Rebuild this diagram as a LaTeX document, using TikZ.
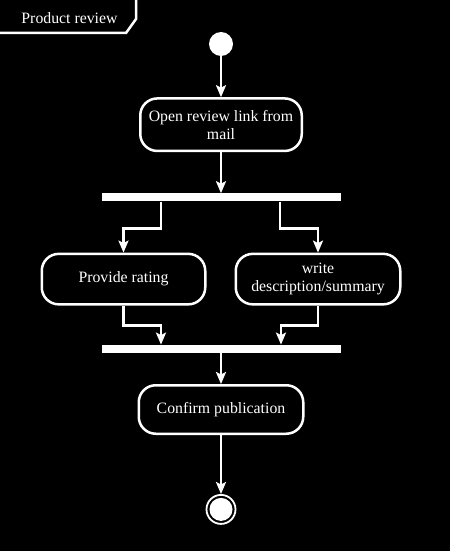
\documentclass[tikz,border=0pt]{standalone}
\usepackage{fontspec}
\setmainfont{Liberation Serif}
\usepackage{tikz}
\usetikzlibrary{shapes,positioning,arrows.meta}
\tikzset{
	txt/.style = {
		font=\fontsize{15.8}{18.3}\selectfont, text=white
	}
}

\begin{document}
\begin{tikzpicture}[
		x=1pt, y=-1pt,
        action/.style = {rectangle, rounded corners=17pt, draw=white, line width=2.5pt,
                         fill=black, txt, align=center, inner sep=2pt},
        bar/.style = {rectangle, fill=white, minimum width=239pt, minimum height=8pt, inner sep=0pt},
        flow/.style = {white, line width=2.5pt, -{Stealth[length=12pt,width=10pt,inset=2.5pt]}}
    ]
    \useasboundingbox (0,0) rectangle (453,556);
    \fill[black] (0,0) rectangle (449.5,551);

    % frame tab
    \draw[white, line width=2.5pt] (0,33) -- (126,33) -- (136,19) -- (136,0);
    \node[txt] (title) at (69.5,18) {Product review};

    \node[circle, fill=white, minimum size=24pt, inner sep=0pt] (start) at (221,44) {};
    \node[action, below = 41pt of start, minimum width=161.5pt, minimum height=52.5pt] (open) {Open review link from\\mail};
    \node[bar, below = 41pt of open] (fork1) {};
    \node[action, below = 51pt of fork1, xshift=-97.5pt, minimum width=163.5pt, minimum height=50.5pt] (rating) {Provide rating};
    \node[action, below = 51pt of fork1, xshift=97pt, minimum width=164.5pt, minimum height=50.5pt] (write) {write\\description/summary};
    \node[bar, below = 143pt of fork1] (fork2) {};
    \node[action, below = 31pt of fork2, minimum width=164.5pt, minimum height=48.5pt] (confirm) {Confirm publication};
    \node[circle, draw=white, line width=1.8pt, minimum size=29pt, inner sep=0pt, below = 59pt of confirm,
          path picture={\fill[white] (path picture bounding box.center) circle (11.5pt);}] (end) {};

    \draw[flow] (start) -- (open);
    \draw[flow] (open.south) -- (open.south |- fork1.north);
    \draw[flow] ([xshift=-60pt]fork1.south) -- ++(0,27) -| (rating.north);
    \draw[flow] ([xshift=59pt]fork1.south) -- ++(0,27) -| (write.north);
    \draw[flow] (rating.south) -- ++(0,20) -| ([xshift=-60pt]fork2.north);
    \draw[flow] (write.south) -- ++(0,20) -| ([xshift=60pt]fork2.north);
    \draw[flow] (fork2) -- (confirm);
    \draw[flow] (confirm) -- (end);

\end{tikzpicture}
\end{document}
